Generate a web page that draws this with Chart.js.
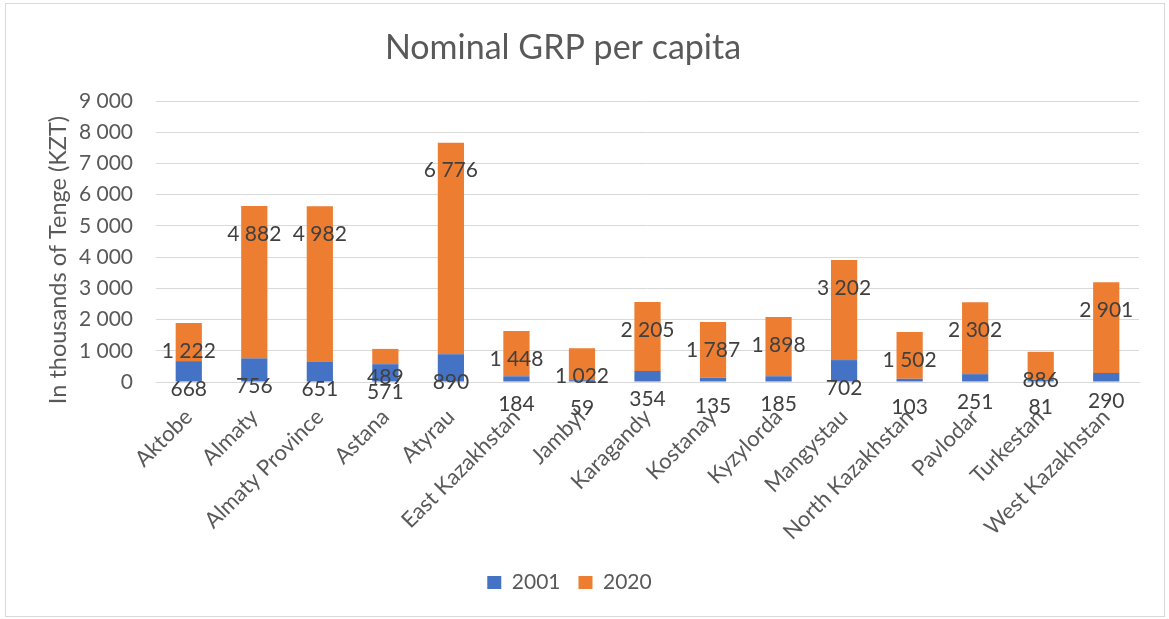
<!DOCTYPE html>
<html>
<head>
<meta charset="utf-8">
<script src="https://cdn.jsdelivr.net/npm/chart.js@4/dist/chart.umd.min.js"></script>
<style>
  html, body { margin: 0; padding: 0; background: #fff; }
  #wrap { position: relative; width: 1169px; height: 619px; }
  #frame { position: absolute; left: 5px; top: 3px; width: 1160px; height: 614px; border: 1.5px solid #d9d9d9; box-sizing: border-box; pointer-events: none; }
  canvas { position: absolute; left: 0; top: 0; }
</style>
</head>
<body>
<div id="wrap">
  <canvas id="c" width="1169" height="619"></canvas>
  <div id="frame"></div>
</div>
<script>
const chartTitle = "Nominal GRP per capita";
const yAxisTitle = "In thousands of Tenge (KZT)";
const categories = ["Aktobe", "Almaty", "Almaty Province", "Astana", "Atyrau", "East Kazakhstan", "Jambyl", "Karagandy", "Kostanay", "Kyzylorda", "Mangystau", "North Kazakhstan", "Pavlodar", "Turkestan", "West Kazakhstan"];
const seriesNames = ["2001", "2020"];
const values2001 = [668, 756, 651, 571, 890, 184, 59, 354, 135, 185, 702, 103, 251, 81, 290];
const values2020 = [1222, 4882, 4982, 489, 6776, 1448, 1022, 2205, 1787, 1898, 3202, 1502, 2302, 886, 2901];
const yMin = 0, yMax = 9000, yStep = 1000;

function fmt(v) {
  return String(Math.round(v)).replace(/\B(?=(\d{3})+(?!\d))/g, " ");
}

const FONT = "Lato, 'Open Sans', sans-serif";

const labelPlugin = {
  id: 'barLabels',
  afterDatasetsDraw(chart) {
    const ctx = chart.ctx;
    ctx.save();
    ctx.font = "21px " + FONT;
    ctx.fillStyle = "#404040";
    ctx.textAlign = "center";
    ctx.textBaseline = "middle";
    chart.data.datasets.forEach((ds, di) => {
      const meta = chart.getDatasetMeta(di);
      meta.data.forEach((bar, i) => {
        ctx.fillText(fmt(ds.data[i]), bar.x, bar.y + 28);
      });
    });
    ctx.restore();
  }
};

const titlePlugin = {
  id: 'titles',
  afterDraw(chart) {
    const ctx = chart.ctx;
    ctx.save();
    ctx.fillStyle = "#595959";
    ctx.font = "34px " + FONT;
    ctx.textAlign = "center";
    ctx.textBaseline = "alphabetic";
    ctx.fillText(chartTitle, 563, 59);
    ctx.translate(58, 260);
    ctx.rotate(-Math.PI / 2);
    ctx.font = "23.5px " + FONT;
    ctx.textBaseline = "middle";
    ctx.fillText(yAxisTitle, 0, 0);
    ctx.restore();
  }
};

new Chart(document.getElementById('c'), {
  type: 'bar',
  data: {
    labels: categories,
    datasets: [
      { label: seriesNames[0], data: values2001, backgroundColor: '#4472C4', borderWidth: 0 },
      { label: seriesNames[1], data: values2020, backgroundColor: '#ED7D31', borderWidth: 0 }
    ]
  },
  options: {
    responsive: false,
    animation: false,
    layout: { padding: { left: 0, right: 30, top: 101, bottom: 16 } },
    datasets: { bar: { categoryPercentage: 1.0, barPercentage: 0.4 } },
    scales: {
      x: {
        stacked: true,
        grid: { display: false, drawTicks: false },
        border: { display: true, color: '#d9d9d9', width: 1 },
        ticks: { color: '#595959', font: { family: FONT, size: 22 }, autoSkip: false, maxRotation: 45, minRotation: 45, padding: 22 },
        afterFit(scale) { scale.height = 172; }
      },
      y: {
        stacked: true,
        min: yMin, max: yMax,
        grid: { color: '#d9d9d9', lineWidth: 1, drawTicks: false },
        border: { display: false },
        ticks: { stepSize: yStep, color: '#595959', font: { family: FONT, size: 21 }, padding: 23, callback: (v) => fmt(v) },
        afterFit(scale) { scale.width = 156; }
      }
    },
    plugins: {
      legend: {
        position: 'bottom',
        labels: { color: '#595959', font: { family: FONT, size: 21 }, boxWidth: 14, boxHeight: 13, padding: 18 }
      },
      title: { display: false },
      tooltip: { enabled: false }
    }
  },
  plugins: [labelPlugin, titlePlugin]
});
</script>
</body>
</html>
